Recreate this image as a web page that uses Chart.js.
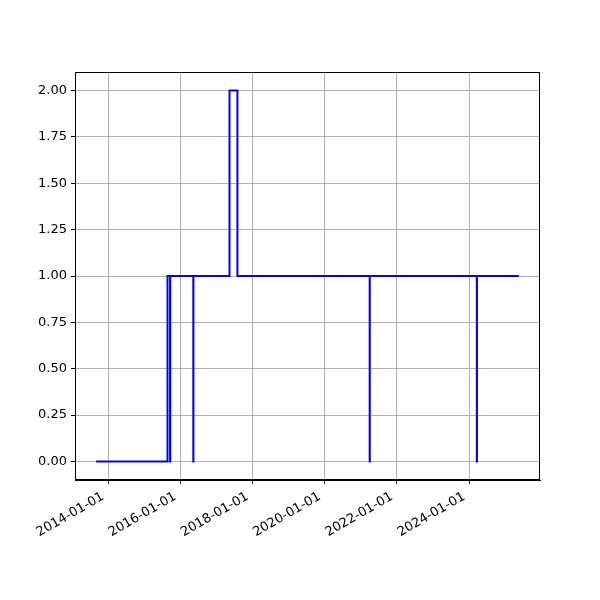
<!DOCTYPE html>
<html>
<head>
<meta charset="utf-8">
<script src="https://cdn.jsdelivr.net/npm/chart.js@4/dist/chart.umd.min.js"></script>
<style>
  html, body { margin: 0; padding: 0; background: #fff; }
</style>
</head>
<body>
<canvas id="stepChart" width="600" height="600"></canvas>
<script>
// step data: value holds from each date until the next one
const stepDates = ['2013-09-02', '2015-08-25', '2015-09-20', '2015-09-22', '2016-05-12', '2016-05-13',
    '2017-05-13', '2017-08-01', '2021-03-31', '2021-04-01', '2024-03-19', '2024-03-20', '2025-05-18'];
const stepValues = [0, 1, 0, 1, 0, 1, 2, 1, 0, 1, 0, 1, 1];
const xTickDates = ['2014-01-01', '2016-01-01', '2018-01-01', '2020-01-01', '2022-01-01', '2024-01-01'];
const yTickValues = [0, 0.25, 0.5, 0.75, 1, 1.25, 1.5, 1.75, 2];

const points = stepDates.map((d, i) => ({ x: Date.parse(d), y: stepValues[i] }));
const xs = points.map(p => p.x);
const span = Math.max(...xs) - Math.min(...xs);
const xMin = Math.min(...xs) - span * 0.05;
const xMax = Math.max(...xs) + span * 0.05;

const frameBox = {
    id: 'frameBox',
    afterDraw(chart) {
        const a = chart.chartArea;
        const c = chart.ctx;
        c.save();
        c.strokeStyle = '#000';
        c.lineWidth = 1;
        c.strokeRect(a.left + 0.5, a.top + 0.5, a.right - a.left - 1, a.bottom - a.top - 1);
        c.restore();
    }
};

const font = { family: 'DejaVu Sans', size: 13 };

new Chart(document.getElementById('stepChart'), {
    type: 'line',
    data: {
        datasets: [{
            data: points,
            stepped: 'before',
            borderColor: '#0000ff',
            borderWidth: 2,
            pointRadius: 0,
            fill: false
        }]
    },
    options: {
        responsive: false,
        animation: false,
        layout: { padding: { top: 72, right: 60, left: 0, bottom: 0 } },
        plugins: { legend: { display: false }, tooltip: { enabled: false } },
        scales: {
            x: {
                type: 'linear',
                min: xMin,
                max: xMax,
                afterBuildTicks: scale => {
                    scale.ticks = xTickDates.map(d => ({ value: Date.parse(d) }));
                },
                afterFit: scale => { scale.height = 120; },
                ticks: {
                    color: '#000',
                    font: font,
                    minRotation: 30,
                    maxRotation: 30,
                    padding: 5,
                    labelOffset: -5,
                    callback: v => new Date(v).toISOString().slice(0, 10)
                },
                grid: { color: '#b0b0b0', tickColor: '#000', tickLength: 4 },
                border: { color: '#000' }
            },
            y: {
                min: -0.1,
                max: 2.1,
                afterBuildTicks: scale => {
                    scale.ticks = yTickValues.map(v => ({ value: v }));
                },
                afterFit: scale => { scale.width = 75; },
                ticks: {
                    color: '#000',
                    font: font,
                    padding: 4,
                    callback: v => v.toFixed(2)
                },
                grid: { color: '#b0b0b0', tickColor: '#000', tickLength: 4 },
                border: { color: '#000' }
            }
        }
    },
    plugins: [frameBox]
});
</script>
</body>
</html>
